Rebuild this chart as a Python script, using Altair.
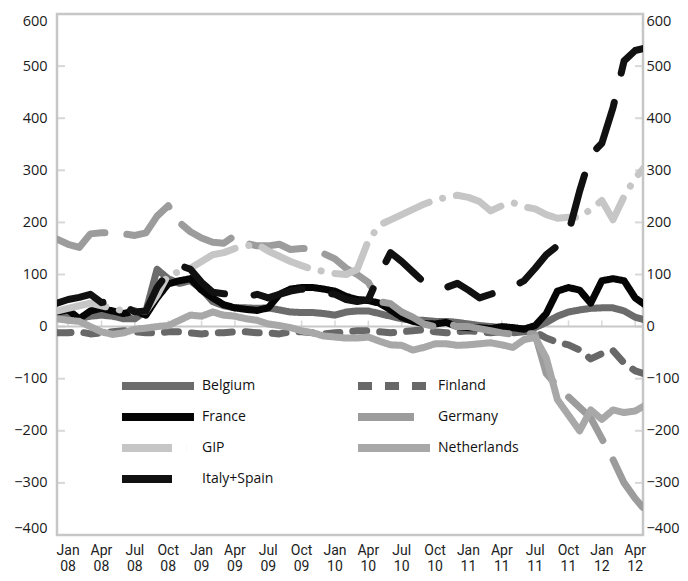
import altair as alt
import pandas as pd

# month index: Jan 2008 = 0 (Dec 2007 = -1 ... May 2012 = 52)
months = list(range(-1, 53))

series_names = ["Belgium", "Finland", "France", "Germany", "GIP", "Netherlands", "Italy+Spain"]
# legend reads row by row in two columns; Vega fills columns first
legend_order = ["Belgium", "France", "GIP", "Italy+Spain", "Finland", "Germany", "Netherlands"]

belgium = [20, 22, 15, 20, 22, 20, 15, 15, 30, 110, 92, 83, 88, 72, 48, 40, 36, 36, 35, 36, 32, 28,
           27, 27, 25, 22, 28, 30, 30, 25, 20, 15, 12, 12, 10, 10, 8, 5, 2, 0, -2, -3, -4, -2, 8, 20,
           28, 32, 35, 36, 36, 30, 18, 12]
finland = [-12, -12, -10, -14, -12, -10, -8, -10, -12, -12, -10, -10, -12, -14, -12, -12, -10, -10,
           -12, -12, -14, -10, -10, -12, -14, -12, -10, -8, -8, -10, -12, -10, -8, -6, -10, -12, -10,
           -8, -10, -12, -10, -12, -10, -10, -22, -30, -35, -45, -62, -52, -46, -70, -85, -92]
france = [28, 32, 15, 30, 35, 30, 25, 30, 22, 55, 82, 88, 92, 70, 55, 42, 36, 33, 31, 36, 62, 72,
          75, 75, 72, 68, 58, 52, 50, 45, 32, 18, 10, 6, 5, 8, 0, -2, -2, -4, 0, -2, -5, 2, 25, 68,
          75, 70, 45, 88, 92, 88, 55, 40]
germany = [168, 158, 152, 178, 180, 180, 178, 175, 180, 212, 232, 200, 182, 170, 162, 160, 175, 160,
           155, 155, 158, 148, 150, 150, 140, 130, 112, 100, 85, 48, 44, 28, 18, 5, 0, 8, 0, 0, -4,
           -8, -12, -15, -12, -15, -90, -115, -135, -155, -175, -215, -255, -300, -330, -355]
gip = [30, 35, 40, 45, 40, 35, 30, 28, 30, 60, 100, 105, 112, 125, 138, 142, 150, 155, 158, 145, 135,
       125, 117, 110, 106, 102, 100, 110, 165, 195, 205, 215, 225, 235, 243, 248, 252, 248, 240, 222,
       232, 238, 230, 226, 215, 208, 210, 210, 225, 242, 205, 250, 285, 310]
netherlands = [15, 12, 10, 0, -10, -15, -12, -5, -3, 0, 2, 12, 22, 20, 28, 22, 20, 15, 12, 5, 2, -2,
               -8, -12, -18, -20, -22, -22, -20, -28, -35, -36, -45, -40, -33, -33, -36, -35, -33,
               -31, -35, -40, -25, -21, -60, -140, -170, -200, -160, -178, -160, -165, -162, -150]
italy_spain = [45, 52, 56, 62, 46, 50, 40, 28, 30, 75, 105, 118, 110, 85, 66, 63, 62, 57, 62, 55, 62,
               68, 72, 70, 66, 62, 52, 48, 52, 100, 142, 125, 105, 85, 75, 75, 83, 70, 55, 62, 70, 77,
               88, 112, 138, 155, 180, 260, 330, 352, 420, 510, 530, 535]

series_values = [belgium, finland, france, germany, gip, netherlands, italy_spain]
color_of = {"Belgium": "#6c6c6c", "Finland": "#686868", "France": "#050505", "Germany": "#9c9c9c",
            "GIP": "#c6c6c6", "Netherlands": "#a8a8a8", "Italy+Spain": "#111111"}
dash_of = {"Belgium": [1, 0], "Finland": [14, 13], "France": [1, 0], "Germany": [56, 22],
           "GIP": [50, 14, 0.1, 14], "Netherlands": [1, 0], "Italy+Spain": [50, 30]}

tick_pos = list(range(0, 52, 3))
tick_mon = ["Jan", "Apr", "Jul", "Oct"] * 4 + ["Jan", "Apr"]
tick_yr = ["08"] * 4 + ["09"] * 4 + ["10"] * 4 + ["11"] * 4 + ["12"] * 2
y_ticks = [-400, -300, -200, -100, 0, 100, 200, 300, 400, 500, 600]

rows = []
for name, vals in zip(series_names, series_values):
    for m, v in zip(months, vals):
        rows.append({"m": m, "v": v, "s": name})
df = pd.DataFrame(rows)

xlab_df = pd.DataFrame({"m": tick_pos, "lab": [a + "\n" + b for a, b in zip(tick_mon, tick_yr)]})

xs = alt.Scale(domain=[-1, 51.7], nice=False, zero=False)
ys = alt.Scale(domain=[-400, 600], nice=False, zero=False)

y_axis_common = dict(values=y_ticks, ticks=False, domain=False, grid=False, title=None,
                     labelFont="Open Sans", labelFontSize=14.5, labelColor="#1a1a1a",
                     labelOverlap=False, labelFlush=True)
left_axis = alt.Axis(orient="left", labelPadding=10, **y_axis_common)
right_axis = alt.Axis(orient="right", labelPadding=3, **y_axis_common)

leg = alt.Legend(
    orient="none", legendX=61, legendY=361, columns=2, title=None,
    symbolType="stroke", symbolSize=5184, symbolStrokeWidth=8, clipHeight=22,
    rowPadding=9, columnPadding=80, labelOffset=4, padding=0,
    labelFont="Open Sans", labelFontSize=14, labelColor="#111111",
)

color_enc = alt.Color("s:N", scale=alt.Scale(domain=legend_order,
                                             range=[color_of[n] for n in legend_order]), legend=leg)
dash_enc = alt.StrokeDash("s:N", scale=alt.Scale(domain=legend_order,
                                                 range=[dash_of[n] for n in legend_order]), legend=leg)

zero_line = alt.Chart(pd.DataFrame({"v": [0]})).mark_rule(color="#c8c8c8", strokeWidth=2).encode(
    y=alt.Y("v:Q", scale=ys, axis=None)
)
zero_ticks = alt.Chart(pd.DataFrame({"m": tick_pos})).mark_tick(
    orient="vertical", size=6, thickness=1.5, color="#c8c8c8", yOffset=-3
).encode(
    x=alt.X("m:Q", scale=xs, axis=None),
    y=alt.YDatum(0, type="quantitative", scale=ys, axis=None),
)
x_labels = alt.Chart(xlab_df).mark_text(
    lineBreak="\n", baseline="top", align="center", fontSize=14, lineHeight=15.5,
    font="Liberation Sans Narrow, Roboto", color="#222222", yOffset=9
).encode(
    x=alt.X("m:Q", scale=xs, axis=None),
    y=alt.value(521),
    text="lab:N",
)
left_ticks = alt.Chart(pd.DataFrame({"v": y_ticks})).mark_tick(
    orient="horizontal", size=8, thickness=2, color="#c8c8c8", xOffset=4
).encode(
    x=alt.value(0),
    y=alt.Y("v:Q", scale=ys, axis=left_axis),
)
right_ticks = alt.Chart(pd.DataFrame({"v": y_ticks})).mark_tick(
    orient="horizontal", size=8, thickness=2, color="#c8c8c8", xOffset=-4
).encode(
    x=alt.value(586),
    y=alt.Y("v:Q", scale=ys, axis=right_axis),
)


def line_layer(name):
    return alt.Chart(df).transform_filter(alt.datum.s == name).mark_line(
        strokeWidth=7, strokeCap="round", strokeJoin="round", clip=True
    ).encode(
        x=alt.X("m:Q", scale=xs, axis=None),
        y=alt.Y("v:Q", scale=ys, axis=None),
        color=color_enc,
        strokeDash=dash_enc,
    )


layers = [zero_line, zero_ticks, x_labels, left_ticks, right_ticks] + [line_layer(n) for n in series_names]

chart = alt.layer(*layers).resolve_axis(y="independent").properties(
    width=586, height=521,
    autosize=alt.AutoSizeParams(type="none"),
    padding={"left": 49, "top": 6, "right": 37, "bottom": 38},
    background="white",
).configure_view(stroke="#c6c6c6", strokeWidth=2.5)

chart.save("out.html", embed_options={"renderer": "svg", "actions": False})
